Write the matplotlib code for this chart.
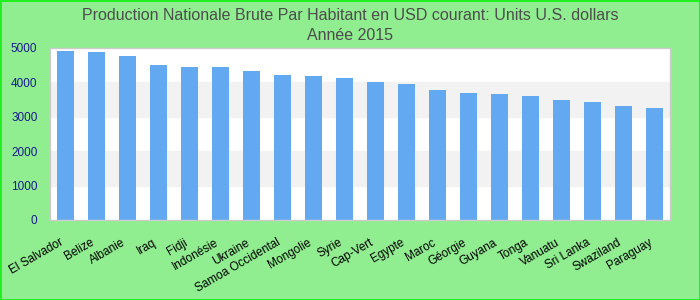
import matplotlib
matplotlib.use("Agg")
import matplotlib.pyplot as plt

plt.rcParams["font.family"] = ["Liberation Sans", "DejaVu Sans"]

# Data
countries = [
    "El Salvador", "Belize", "Albanie", "Iraq", "Fidji", "Indonésie", "Ukraine",
    "Samoa Occidental", "Mongolie", "Syrie", "Cap-Vert", "Egypte", "Maroc",
    "Géorgie", "Guyana", "Tonga", "Vanuatu", "Sri Lanka", "Swaziland", "Paraguay",
]
gnp_per_capita = [
    4910, 4880, 4770, 4510, 4450, 4450, 4330,
    4215, 4185, 4130, 4010, 3955, 3780,
    3690, 3665, 3605, 3490, 3430, 3315, 3255,
]
yticks = [0, 1000, 2000, 3000, 4000, 5000]
title = "Production Nationale Brute Par Habitant en USD courant: Units U.S. dollars\nAnnée 2015"

fig = plt.figure(figsize=(7, 3), dpi=100, facecolor="#90EE90",
                 edgecolor="#22ee22", linewidth=2)
ax = fig.add_axes([0.0714, 0.2667, 0.8857, 0.5733])
ax.set_facecolor("white")

# alternating background bands
for lo, hi in zip(yticks[:-1], yticks[1:]):
    if (lo // 1000) % 2 == 1:
        ax.axhspan(lo, hi, color="#f2f2f2", zorder=0)

x = range(len(countries))
ax.bar(x, gnp_per_capita, width=0.55, color="#63a9f2", zorder=2)

ax.set_xlim(-0.5, len(countries) - 0.5)
ax.set_ylim(0, 5000)
ax.set_yticks(yticks)
ax.set_yticklabels([str(v) for v in yticks], color="#1a1a8c", fontsize=8.5)
ax.set_xticks(list(x))
ax.set_xticklabels(countries, rotation=30, ha="right", va="top",
                   fontsize=8.5, color="black")
ax.tick_params(axis="y", length=0, pad=9)
ax.tick_params(axis="x", length=0, pad=12)

for side in ax.spines.values():
    side.set_color("#cccccc")
    side.set_linewidth(1)

fig.suptitle(title, fontsize=11.5, color="#4d4d4d", y=0.975, linespacing=1.45)

fig.savefig("out.png", dpi=100, facecolor=fig.get_facecolor(),
            edgecolor=fig.get_edgecolor())
